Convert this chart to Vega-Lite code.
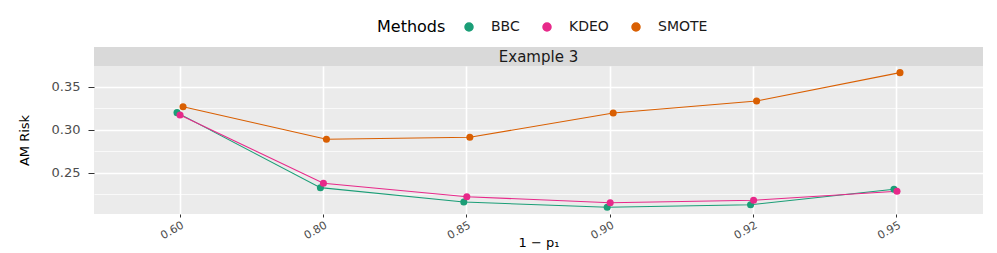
{
  "$schema": "https://vega.github.io/schema/vega-lite/v6.json",
  "background": "white",
  "padding": {"left": 18, "top": 20, "right": 12, "bottom": 2},
  "spacing": 0,
  "config": {
    "font": "DejaVu Sans",
    "view": {"stroke": null},
    "axis": {"domain": false, "labelColor": "#4D4D4D", "tickColor": "#333333", "titleFontWeight": "normal", "titleColor": "#000000", "labelFont": "DejaVu Sans", "titleFont": "DejaVu Sans"},
    "legend": {"titleFontWeight": "normal", "titleColor": "#000000", "labelColor": "#1A1A1A"}
  },
  "datasets": {
    "strip": [{"label": "Example 3"}],
    "risk": [
      {"p": "0.60", "method": "BBC", "risk": 0.3198},
      {"p": "0.80", "method": "BBC", "risk": 0.2326},
      {"p": "0.85", "method": "BBC", "risk": 0.2159},
      {"p": "0.90", "method": "BBC", "risk": 0.2098},
      {"p": "0.92", "method": "BBC", "risk": 0.2128},
      {"p": "0.95", "method": "BBC", "risk": 0.2307},
      {"p": "0.60", "method": "KDEO", "risk": 0.3171},
      {"p": "0.80", "method": "KDEO", "risk": 0.2377},
      {"p": "0.85", "method": "KDEO", "risk": 0.2221},
      {"p": "0.90", "method": "KDEO", "risk": 0.2151},
      {"p": "0.92", "method": "KDEO", "risk": 0.2179},
      {"p": "0.95", "method": "KDEO", "risk": 0.2284},
      {"p": "0.60", "method": "SMOTE", "risk": 0.3267},
      {"p": "0.80", "method": "SMOTE", "risk": 0.2888},
      {"p": "0.85", "method": "SMOTE", "risk": 0.2912},
      {"p": "0.90", "method": "SMOTE", "risk": 0.3194},
      {"p": "0.92", "method": "SMOTE", "risk": 0.3334},
      {"p": "0.95", "method": "SMOTE", "risk": 0.3663}
    ]
  },
  "vconcat": [
    {
      "width": 889,
      "height": 19,
      "view": {"fill": "#D9D9D9", "stroke": null},
      "data": {"name": "strip"},
      "mark": {"type": "text", "fontSize": 15, "color": "#1A1A1A", "font": "DejaVu Sans"},
      "encoding": {"text": {"field": "label", "type": "nominal"}}
    },
    {
      "width": 889,
      "height": 148,
      "view": {"fill": "#EBEBEB", "stroke": null},
      "data": {"name": "risk"},
      "encoding": {
        "x": {
          "field": "p", "type": "ordinal", "sort": null,
          "scale": {"type": "band", "paddingInner": 0, "paddingOuter": 0.1},
          "title": "1 − p₁",
          "axis": {"labelAngle": -30, "labelFontSize": 11, "tickSize": 3, "labelPadding": 2, "grid": true, "gridColor": "#FFFFFF", "gridWidth": 1.6, "bandPosition": 0.5, "titleFontSize": 13, "titlePadding": -4}
        },
        "xOffset": {"field": "method", "type": "nominal", "scale": {"type": "point", "domain": ["BBC", "KDEO", "SMOTE"], "range": [67.2, 76.2]}},
        "y": {
          "field": "risk", "type": "quantitative",
          "scale": {"domain": [0.202, 0.374], "nice": false, "zero": false},
          "title": "AM Risk",
          "axis": {
            "values": [0.225, 0.25, 0.275, 0.3, 0.325, 0.35],
            "labelExpr": "round(datum.value*1000)%50==0 ? format(datum.value,'.2f') : ''",
            "tickOpacity": {"condition": {"test": "round(datum.value*1000)%50!=0", "value": 0}, "value": 1},
            "gridWidth": {"condition": {"test": "round(datum.value*1000)%50!=0", "value": 0.7}, "value": 1.5},
            "gridColor": "#FFFFFF", "tickSize": 6, "labelPadding": 8, "labelFontSize": 13, "titleFontSize": 13, "titlePadding": 20
          }
        },
        "color": {
          "field": "method", "type": "nominal",
          "scale": {"domain": ["BBC", "KDEO", "SMOTE"], "range": ["#1B9E77", "#E7298A", "#D95F02"]},
          "legend": {"title": "Methods", "orient": "none", "legendX": 283, "legendY": -27, "direction": "horizontal", "titleOrient": "left", "titleFontSize": 16, "titlePadding": 16, "labelFontSize": 14, "symbolType": "circle", "symbolSize": 64, "labelOffset": 15, "columnPadding": 20, "titleAnchor": "middle", "titleBaseline": "middle"}
        }
      },
      "layer": [
        {"mark": {"type": "line", "strokeWidth": 1.1}, "encoding": {}},
        {"mark": {"type": "point", "filled": true, "shape": "circle", "size": 50, "opacity": 1}, "encoding": {}}
      ]
    }
  ]
}
